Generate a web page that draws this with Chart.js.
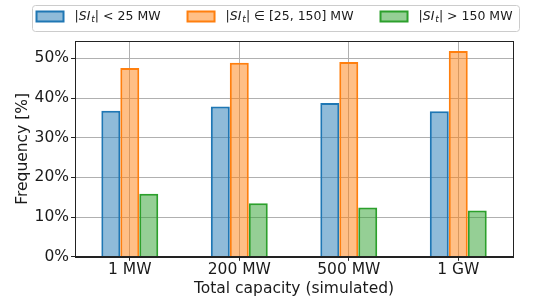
<!DOCTYPE html>
<html>
<head>
<meta charset="utf-8">
<script src="https://cdn.jsdelivr.net/npm/chart.js@4"></script>
<style>
  body { margin: 0; background: #fff; }
  #wrap { width: 559px; height: 303px; position: relative; }
</style>
</head>
<body>
<div id="wrap"><canvas id="chart"></canvas></div>
<script>
// data
const capacities = ["1 MW", "200 MW", "500 MW", "1 GW"];
const small_si = [36.8, 37.9, 38.8, 36.7];
const mid_si = [47.6, 48.9, 49.1, 51.9];
const large_si = [15.9, 13.5, 12.4, 11.7];
const series_labels = ["|SIₜ| < 25 MW", "|SIₜ| ∈ [25, 150] MW", "|SIₜ| > 150 MW"];

const font_family = "'DejaVu Sans', sans-serif";
const font_size = 15.5;
const legend_size = 12.5;
const text_color = "#1a1a1a";

// draws "|SI_t|" in math style, returns the new x
function draw_si(ctx, x, y, measure_only) {
    const normal = legend_size + "px " + font_family;
    const italic = "italic " + legend_size + "px " + font_family;
    const small = "italic " + Math.round(legend_size * 0.7) + "px " + font_family;
    const parts = [["|", normal, 0], ["SI", italic, 0], ["t", small, 3], ["|", normal, 0]];
    for (const [txt, f, dy] of parts) {
        ctx.font = f;
        if (!measure_only) ctx.fillText(txt, x, y + dy);
        x += ctx.measureText(txt).width + (txt === "SI" ? 1 : 0);
    }
    return x;
}

function legend_item_width(ctx, label) {
    let w = draw_si(ctx, 0, 0, true);
    ctx.font = legend_size + "px " + font_family;
    return w + ctx.measureText(label.replace("|SIₜ|", "")).width;
}

// frame around plot + legend in a box above it
const frame_plugin = {
    id: "frame",
    afterDraw(chart) {
        const ctx = chart.ctx;
        const a = chart.chartArea;
        ctx.save();
        ctx.strokeStyle = "#222";
        ctx.lineWidth = 1;
        ctx.strokeRect(Math.round(a.left) + 0.5, Math.round(a.top) + 0.5,
            Math.round(a.right - a.left), Math.round(a.bottom - a.top));

        // legend
        const sets = chart.data.datasets;
        const box_w = 27, box_h = 10, gap_text = 11, gap_item = 27;
        const widths = sets.map(s => legend_item_width(ctx, s.label));
        let total = widths.reduce((p, w) => p + box_w + gap_text + w, 0) + gap_item * (sets.length - 1);
        let x = 274.5 - total / 2;
        const mid = 16.5;

        ctx.strokeStyle = "#cccccc";
        ctx.fillStyle = "rgba(255,255,255,0.8)";
        ctx.beginPath();
        ctx.roundRect(Math.round(x - 5) + 0.5, 5.5, Math.round(total + 11), 26, 3);
        ctx.fill();
        ctx.stroke();

        ctx.textBaseline = "middle";
        sets.forEach((s, i) => {
            ctx.fillStyle = s.backgroundColor;
            ctx.fillRect(x, mid - box_h / 2, box_w, box_h);
            ctx.strokeStyle = s.borderColor;
            ctx.lineWidth = 2;
            ctx.strokeRect(x, mid - box_h / 2, box_w, box_h);
            let tx = x + box_w + gap_text;
            ctx.fillStyle = text_color;
            tx = draw_si(ctx, tx, mid, false);
            ctx.font = legend_size + "px " + font_family;
            ctx.fillText(s.label.replace("|SIₜ|", ""), tx, mid);
            x += box_w + gap_text + widths[i] + gap_item;
        });
        ctx.restore();
    }
};

function make_set(label, values, color, fill) {
    return {
        label: label,
        data: values,
        backgroundColor: fill,
        borderColor: color,
        borderWidth: 2,
        categoryPercentage: 0.52,
        barPercentage: 1.0
    };
}

let bar_chart = new Chart(document.querySelector("#chart"), {
    type: "bar",
    data: {
        labels: capacities,
        datasets: [
            make_set(series_labels[0], small_si, "#1f77b4", "rgba(31, 119, 180, 0.5)"),
            make_set(series_labels[1], mid_si, "#ff7f0e", "rgba(255, 127, 14, 0.5)"),
            make_set(series_labels[2], large_si, "#2ca02c", "rgba(44, 160, 44, 0.5)")
        ]
    },
    options: {
        responsive: true,
        maintainAspectRatio: false,
        animation: false,
        layout: { padding: { left: 14, right: 46, top: 41, bottom: 5 } },
        plugins: {
            legend: { display: false },
            tooltip: { enabled: false }
        },
        scales: {
            x: {
                offset: true,
                grid: { offset: false, color: "#b0b0b0", tickLength: 4, tickColor: "#222" },
                border: { color: "#222" },
                ticks: { color: text_color, font: { family: font_family, size: font_size }, padding: 0 },
                title: {
                    display: true,
                    text: "Total capacity (simulated)",
                    color: text_color,
                    font: { family: font_family, size: font_size },
                    padding: { top: 0, bottom: 0 }
                }
            },
            y: {
                min: 0,
                max: 54.4,
                grid: { color: "#b0b0b0", tickLength: 4, tickColor: "#222" },
                border: { color: "#222" },
                ticks: {
                    stepSize: 10,
                    includeBounds: false,
                    color: text_color,
                    font: { family: font_family, size: font_size },
                    padding: 2,
                    callback: (v) => v + "%"
                },
                title: {
                    display: true,
                    text: "Frequency [%]",
                    color: text_color,
                    font: { family: font_family, size: font_size },
                    padding: { top: 0, bottom: 0 }
                }
            }
        }
    },
    plugins: [frame_plugin]
});
</script>
</body>
</html>
